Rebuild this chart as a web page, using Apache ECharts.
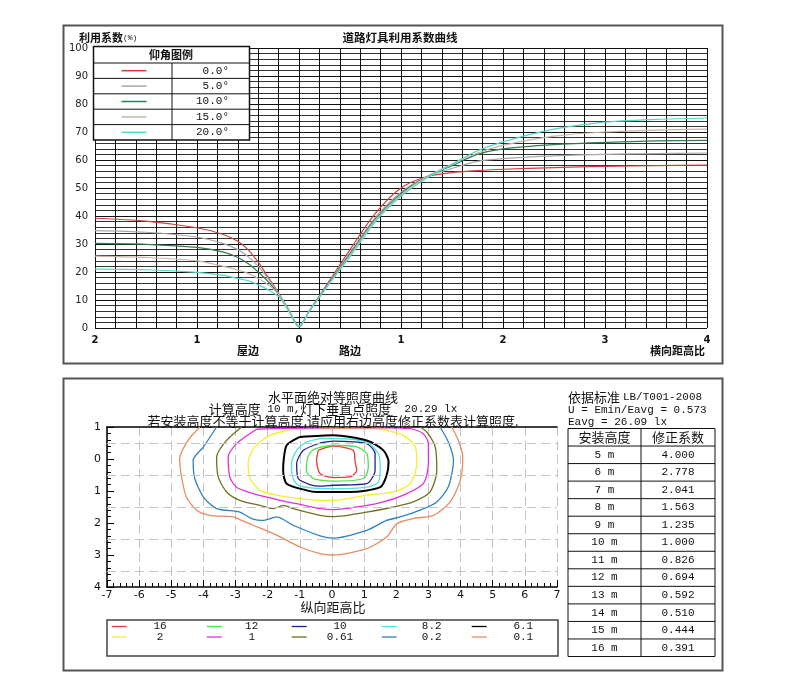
<!DOCTYPE html>
<html><head><meta charset="utf-8">
<script src="https://cdn.jsdelivr.net/npm/echarts/dist/echarts.min.js"></script>
<style>html,body{margin:0;padding:0;background:#fff}#c{width:788px;height:695px}</style>
</head><body><div id="c"></div>
<script>
// ---------- Top chart: utilization factor curves ----------
const angleLabels = ['0.0°', '5.0°', '10.0°', '15.0°', '20.0°'];
const ratioX = [-2, -1.5, -1, -0.75, -0.6, -0.5, -0.4, -0.3, -0.2, -0.1, 0, 0.1, 0.2, 0.3, 0.5, 0.75, 1, 1.25, 1.5, 1.75, 2, 2.5, 3, 3.5, 4];
const uf0  = [39.2, 38.2, 35.8, 33.5, 31.0, 28.0, 23.5, 18.0, 12.5, 6.5, 0.5, 6.0, 11.5, 17.0, 28.0, 41.0, 50.0, 54.0, 55.5, 56.2, 56.7, 57.3, 57.7, 58.0, 58.2];
const uf5  = [34.8, 34.2, 32.5, 30.2, 28.0, 25.5, 22.0, 17.5, 12.3, 6.5, 0.5, 6.0, 11.3, 16.5, 27.0, 39.5, 48.5, 54.0, 57.0, 59.5, 60.5, 61.5, 62.0, 62.3, 62.5];
const uf10 = [30.2, 29.9, 28.8, 27.2, 25.2, 23.0, 20.0, 16.5, 12.0, 6.3, 0.5, 6.0, 11.2, 16.3, 26.5, 39.0, 48.0, 54.0, 58.0, 62.0, 64.0, 65.5, 66.3, 66.8, 67.0];
const uf15 = [25.7, 25.2, 24.0, 22.1, 20.7, 19.5, 17.7, 15.4, 12.0, 6.3, 0.5, 6.0, 11.0, 16.0, 26.0, 38.5, 47.5, 54.0, 58.5, 62.5, 65.2, 68.5, 70.0, 70.7, 71.0];
const uf20 = [21.0, 20.8, 19.9, 18.9, 17.7, 16.9, 15.4, 13.6, 11.2, 6.0, 0.5, 6.0, 11.0, 16.0, 25.5, 38.0, 47.0, 53.5, 58.5, 63.3, 66.5, 71.0, 73.5, 74.5, 75.0];
const angleColors = ['#d04040', '#a8a8a8', '#2f7f4f', '#c8b4a8', '#50d8c8'];

// ---------- Bottom chart: iso-illuminance contours (x: 纵向距高比, y: 横向距高比) ----------
const levelLabels = ['16', '12', '10', '8.2', '6.1', '2', '1', '0.61', '0.2', '0.1'];
const levelColors = ['#e03c3c', '#50e050', '#202090', '#50e0e8', '#000000', '#f0f030', '#e030e0', '#707020', '#2f80c0', '#e88c60'];
const iso16 = [[-0.43,-0.27],[0.04,-0.4],[0.66,-0.27],[0.72,0.09],[0.77,0.35],[0.56,0.56],[0.04,0.58],[-0.37,0.46],[-0.48,0.04],[-0.43,-0.27]];
const iso12 = [[-0.37,-0.36],[0.04,-0.43],[0.77,-0.38],[1.08,-0.17],[1.13,0.25],[0.98,0.61],[0.04,0.69],[-0.37,0.66],[-0.58,0.61],[-0.8,0.35],[-0.75,-0.06],[-0.6,-0.27],[-0.37,-0.36]];
const iso10 = [[-0.37,-0.5],[0.04,-0.56],[1.08,-0.48],[1.34,-0.17],[1.34,0.35],[1.08,0.77],[0.04,0.82],[-0.37,0.85],[-0.69,0.8],[-1.05,0.61],[-1.1,0.14],[-0.89,-0.27],[-0.37,-0.5]];
const iso82 = [[-0.37,-0.64],[0.04,-0.64],[1.08,-0.53],[1.44,-0.17],[1.5,0.25],[1.44,0.72],[1.08,0.88],[0.04,0.93],[-1.0,0.85],[-1.21,0.61],[-1.26,0.14],[-1.1,-0.27],[-0.79,-0.53],[-0.37,-0.64]];
const iso61 = [[-1.0,-0.69],[0.04,-0.74],[1.08,-0.58],[1.6,-0.27],[1.76,0.09],[1.7,0.51],[1.5,0.88],[0.56,1.03],[-0.48,1.03],[-0.79,0.98],[-1.41,0.77],[-1.52,0.35],[-1.5,0],[-1.41,-0.43],[-1.0,-0.69]];
const iso2 = [[-1.21,-0.93],[-1.93,-0.74],[-2.4,-0.38],[-2.61,0.09],[-2.55,0.61],[-2.24,0.98],[-1.72,1.13],[-1.0,1.24],[-0.37,1.29],[0.04,1.29],[1.08,1.13],[1.91,1.03],[2.43,0.77],[2.64,0.14],[2.59,-0.38],[2.22,-0.74],[1.5,-0.93],[0.2,-0.96],[-1.21,-0.93]];
const iso1 = [[-2.35,-0.93],[-2.97,-0.48],[-3.23,-0.06],[-3.18,0.56],[-2.97,0.88],[-2.45,1.08],[-1.83,1.24],[-1.41,1.34],[-1.0,1.42],[-0.37,1.55],[0.04,1.58],[1.08,1.45],[1.6,1.34],[2.22,1.13],[2.84,0.77],[3.0,0.14],[3.0,-0.48],[2.84,-0.79],[2.43,-0.95],[1.7,-0.97],[0,-0.97],[-1.5,-0.96],[-2.35,-0.93]];
const iso061 = [[-2.81,-1.0],[-3.28,-0.58],[-3.59,-0.06],[-3.54,0.56],[-3.28,1.03],[-2.87,1.29],[-2.24,1.45],[-1.83,1.55],[-1.52,1.45],[-1.21,1.55],[-0.37,1.76],[0.04,1.8],[1.08,1.66],[1.91,1.5],[2.53,1.34],[3.05,1.03],[3.26,0.35],[3.21,-0.38],[2.95,-0.84],[2.74,-1.0]];
const iso02 = [[-3.59,-1.0],[-4.0,-0.38],[-4.32,0.04],[-4.27,0.61],[-4.0,1.19],[-3.59,1.55],[-2.87,1.66],[-2.5,1.86],[-2.14,1.92],[-1.72,1.81],[-1.21,2.07],[-0.37,2.4],[0.04,2.47],[1.08,2.23],[1.7,1.92],[2.12,1.81],[2.74,1.6],[3.26,1.34],[3.62,0.87],[3.78,0.04],[3.62,-0.53],[3.36,-1.0]];
const iso01 = [[-4.11,-1.0],[-4.48,-0.58],[-4.74,0],[-4.68,0.56],[-4.53,1.19],[-4.21,1.6],[-3.8,1.76],[-3.07,1.81],[-2.81,1.92],[-2.45,2.07],[-1.72,2.38],[-1.0,2.75],[-0.4,2.95],[0.03,3.0],[1.08,2.8],[1.7,2.44],[2.02,2.02],[2.53,1.86],[3.16,1.76],[3.68,1.34],[3.99,0.67],[4.07,-0.06],[3.93,-0.58],[3.73,-1.0]];
const isoLines = [iso16, iso12, iso10, iso82, iso61, iso2, iso1, iso061, iso02, iso01];
const halfGridY = [-0.5, 0.5, 1.5, 2.5, 3.5];

// ---------- Right table ----------
const mountHeights = ['5 m','6 m','7 m','8 m','9 m','10 m','11 m','12 m','13 m','14 m','15 m','16 m'];
const correctionFactors = ['4.000','2.778','2.041','1.563','1.235','1.000','0.826','0.694','0.592','0.510','0.444','0.391'];

const CJK = '"Noto Sans CJK SC", sans-serif';
const MONO = '"Liberation Mono", "DejaVu Sans Mono", monospace';

function T(text, x, y, font, align, extra) {
  return Object.assign({
    type: 'text', z: 20,
    style: Object.assign({ text: text, x: x, y: y, font: font, fill: '#111',
      align: align || 'left', textAlign: align || 'left',
      verticalAlign: 'middle', textVerticalAlign: 'middle' }, (extra && extra.style) || {})
  }, extra ? { rotation: extra.rotation || 0 } : {});
}
function L(x1, y1, x2, y2, color, w, z) {
  return { type: 'line', z: z || 20, shape: { x1: x1, y1: y1, x2: x2, y2: y2 }, style: { stroke: color, lineWidth: w || 1 } };
}

const graphics = [];
// outer boxes
graphics.push({ type: 'rect', z: 1, shape: { x: 63.5, y: 25.5, width: 659, height: 338 }, style: { fill: 'none', stroke: '#555', lineWidth: 2 } });
graphics.push({ type: 'rect', z: 1, shape: { x: 63.5, y: 378.5, width: 659, height: 292 }, style: { fill: 'none', stroke: '#555', lineWidth: 2 } });

// top chart texts
graphics.push(T('{a|利用系数}{b|(%)}', 79, 38, 'bold 11px ' + CJK, 'left', { style: { rich: { a: { font: 'bold 11px ' + CJK, fill: '#111' }, b: { font: '8px ' + MONO, fill: '#111' } } } }));
graphics.push(T('道路灯具利用系数曲线', 400, 38, 'bold 11.5px ' + CJK, 'center'));
graphics.push(T('屋边', 248, 351, 'bold 11px ' + CJK, 'center'));
graphics.push(T('路边', 350, 351, 'bold 11px ' + CJK, 'center'));
graphics.push(T('横向距高比', 705, 351, 'bold 11px ' + CJK, 'right'));

// top legend table
const lgX = 93.5, lgY = 46.5, lgW = 156, lgH = 93.5, lgHead = 16.5, colX = 172;
graphics.push({ type: 'rect', z: 15, shape: { x: lgX, y: lgY, width: lgW, height: lgH }, style: { fill: '#fff', stroke: '#111', lineWidth: 1.5 } });
graphics.push(T('仰角图例', 171, lgY + lgHead / 2 + 0.5, 'bold 11px ' + CJK, 'center'));
const rowH = (lgH - lgHead) / angleLabels.length;
angleLabels.forEach((lab, i) => {
  const top = lgY + lgHead + i * rowH;
  graphics.push(L(lgX, top, lgX + lgW, top, '#111', 1));
  const cy = top + rowH / 2;
  graphics.push(L(121.5, cy, 146.5, cy, angleColors[i], 1.5));
  graphics.push(T(lab, 229, cy, '11px ' + MONO, 'right'));
});
graphics.push(L(colX, lgY + lgHead, colX, lgY + lgH, '#111', 1));

// bottom titles
graphics.push(T('水平面绝对等照度曲线', 333, 397, '13px ' + CJK, 'center'));
graphics.push(T('{a|计算高度}{b| 10 m,}{a|灯下垂直点照度}{b|  20.29 lx}', 333, 409.5, '13px ' + CJK, 'center', { style: { rich: { a: { font: '13px ' + CJK, fill: '#111' }, b: { font: '11px ' + MONO, fill: '#111' } } } }));
graphics.push(T('若安装高度不等于计算高度,请应用右边高度修正系数表计算照度.', 333, 421, '13px ' + CJK, 'center'));
// contour axis names
graphics.push(T('屋边', 77, 448, '13px ' + CJK, 'center', { rotation: Math.PI / 2 }));
graphics.push(T('横向距高比', 77, 507, '13px ' + CJK, 'center', { rotation: Math.PI / 2 }));
graphics.push(T('路边', 77, 573, '13px ' + CJK, 'center', { rotation: Math.PI / 2 }));
graphics.push(T('纵向距高比', 333, 607, '13px ' + CJK, 'center'));

// info text & table
graphics.push(T('{a|依据标准} {b|LB/T001-2008}', 568, 397, '13px ' + CJK, 'left', { style: { rich: { a: { font: '13px ' + CJK, fill: '#111' }, b: { font: '11px ' + MONO, fill: '#111' } } } }));
graphics.push(T('U = Emin/Eavg = 0.573', 568, 410, '11px ' + MONO, 'left'));
graphics.push(T('Eavg = 26.09 lx', 568, 422, '11px ' + MONO, 'left'));
const tbX = 568, tbY = 428.5, tbW = 147, tbMid = 641, tbRow = (656.5 - 428.5) / (mountHeights.length + 1);
graphics.push({ type: 'rect', z: 15, shape: { x: tbX, y: tbY, width: tbW, height: tbRow * (mountHeights.length + 1) }, style: { fill: '#fff', stroke: '#111', lineWidth: 1 } });
graphics.push(L(tbMid, tbY, tbMid, tbY + tbRow * (mountHeights.length + 1), '#111', 1));
graphics.push(T('安装高度', (tbX + tbMid) / 2, tbY + tbRow / 2, '13px ' + CJK, 'center'));
graphics.push(T('修正系数', (tbMid + tbX + tbW) / 2, tbY + tbRow / 2, '13px ' + CJK, 'center'));
mountHeights.forEach((h, i) => {
  const top = tbY + tbRow * (i + 1);
  graphics.push(L(tbX, top, tbX + tbW, top, '#111', 1));
  graphics.push(T(h, (tbX + tbMid) / 2, top + tbRow / 2, '11px ' + MONO, 'center'));
  graphics.push(T(correctionFactors[i], (tbMid + tbX + tbW) / 2, top + tbRow / 2, '11px ' + MONO, 'center'));
});

// contour legend
graphics.push({ type: 'rect', z: 15, shape: { x: 107, y: 620, width: 451, height: 36 }, style: { fill: '#fff', stroke: '#444', lineWidth: 1.5 } });
const lgLineX = [111.7, 206.7, 291.7, 381.7, 471.7];
const lgLabX = [160, 251.7, 340, 431.7, 523.3];
levelLabels.forEach((lab, i) => {
  const col = i % 5, row = Math.floor(i / 5);
  const cy = 626.5 + row * 10.5;
  graphics.push(L(lgLineX[col], cy, lgLineX[col] + 15, cy, levelColors[i], 1.3));
  graphics.push(T(lab, lgLabX[col], cy, '11px ' + MONO, 'center'));
});

const series = [];
[uf0, uf5, uf10, uf15, uf20].forEach((vals, i) => {
  series.push({
    type: 'line', name: angleLabels[i], xAxisIndex: 0, yAxisIndex: 0,
    data: ratioX.map((x, j) => [x, vals[j]]),
    smooth: 0.3, showSymbol: false, symbol: 'none', z: 3,
    lineStyle: { color: angleColors[i], width: 1.2 }
  });
});
isoLines.forEach((pts, i) => {
  const s = {
    type: 'line', name: levelLabels[i], xAxisIndex: 1, yAxisIndex: 1,
    data: pts, smooth: 0.25, showSymbol: false, symbol: 'none', z: 3, clip: true,
    lineStyle: { color: levelColors[i], width: levelLabels[i] === '6.1' ? 2 : 1.3 }
  };
  if (i === isoLines.length - 1) {
    s.markLine = { silent: true, symbol: 'none', label: { show: false },
      lineStyle: { color: '#c4c4c4', type: [9, 5], width: 1 },
      data: halfGridY.map(v => ({ yAxis: v })) };
  }
  series.push(s);
});

const chart = echarts.init(document.getElementById('c'), null, { renderer: 'canvas' });
chart.setOption({
  animation: false,
  backgroundColor: '#fff',
  grid: [
    { left: 95, top: 48, width: 612, height: 280 },
    { left: 107, top: 427, width: 450, height: 160 }
  ],
  xAxis: [
    { type: 'value', gridIndex: 0, min: -2, max: 4, interval: 1,
      axisLine: { show: false }, axisTick: { show: false },
      axisLabel: { formatter: v => String(Math.abs(v)), color: '#111', fontSize: 10, fontWeight: 'bold', margin: 7, fontFamily: 'DejaVu Sans' },
      splitLine: { show: true, lineStyle: { color: '#111', width: 1 } },
      minorTick: { show: false, splitNumber: 5 },
      minorSplitLine: { show: true, lineStyle: { color: '#111', width: 1 } } },
    { type: 'value', gridIndex: 1, min: -7, max: 7, interval: 1,
      axisLine: { show: true, onZero: false, lineStyle: { color: '#000', width: 1.5 } },
      axisTick: { show: true, inside: true, length: 7, lineStyle: { color: '#000' } },
      minorTick: { show: true, splitNumber: 5, length: 4, lineStyle: { color: '#000' } },
      axisLabel: { color: '#111', fontSize: 11, margin: 3, fontFamily: 'DejaVu Sans' },
      splitLine: { show: true, lineStyle: { color: '#c4c4c4', type: [9, 5], width: 1 } } },
    { type: 'value', gridIndex: 1, position: 'top', min: -7, max: 7, interval: 1,
      axisLine: { show: true, onZero: false, lineStyle: { color: '#000', width: 1.5 } },
      axisTick: { show: false }, axisLabel: { show: false }, splitLine: { show: false } }
  ],
  yAxis: [
    { type: 'value', gridIndex: 0, min: 0, max: 100, interval: 10,
      axisLine: { show: false }, axisTick: { show: false },
      axisLabel: { color: '#222', fontSize: 10, margin: 7, fontFamily: 'DejaVu Sans' },
      splitLine: { show: true, lineStyle: { color: '#111', width: 1 } },
      minorTick: { show: false, splitNumber: 5 },
      minorSplitLine: { show: true, lineStyle: { color: '#333', width: 1 } } },
    { type: 'value', gridIndex: 1, min: -1, max: 4, interval: 1, inverse: true,
      axisLine: { show: true, onZero: false, lineStyle: { color: '#000', width: 1.5 } },
      axisTick: { show: true, inside: true, length: 7, lineStyle: { color: '#000' } },
      minorTick: { show: true, splitNumber: 5, length: 4, lineStyle: { color: '#000' } },
      axisLabel: { formatter: v => String(Math.abs(v)), color: '#111', fontSize: 11, margin: 6, fontFamily: 'DejaVu Sans', verticalAlign: 'middle', padding: [8, 0, 0, 0] },
      splitLine: { show: false } }
  ],
  graphic: graphics,
  series: series
});
</script>
</body></html>
